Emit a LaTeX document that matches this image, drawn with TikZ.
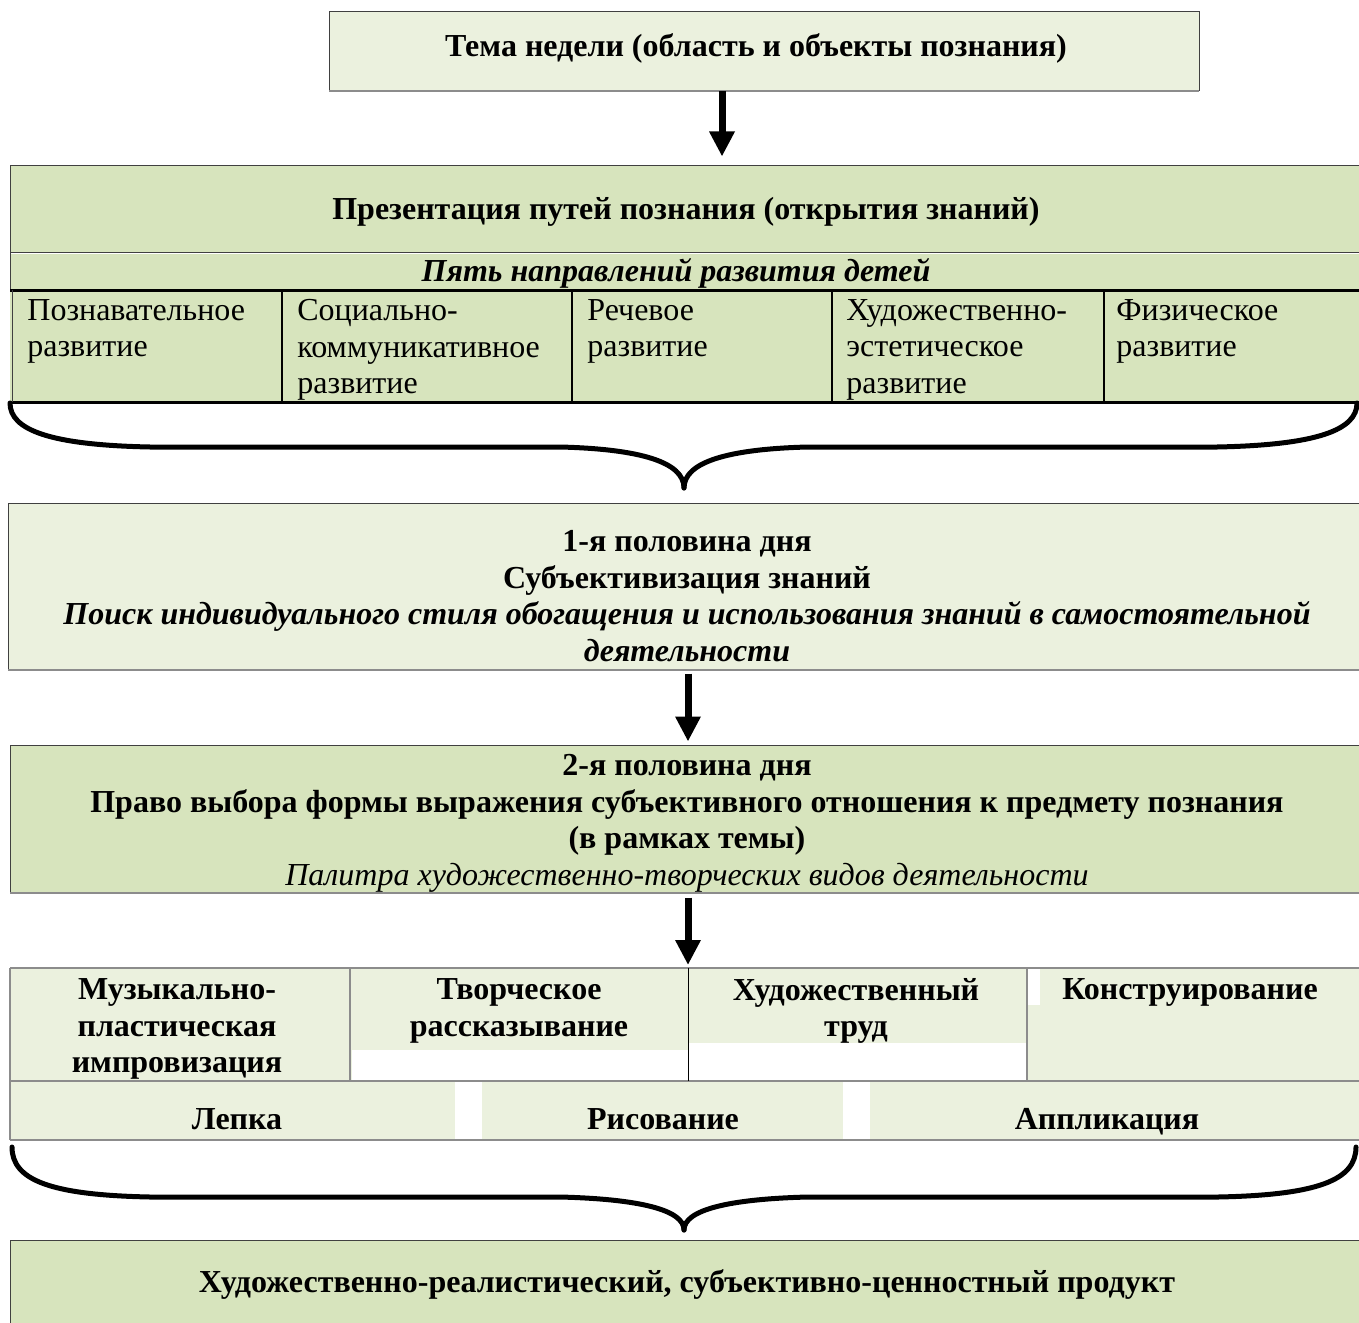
\documentclass[tikz,border=0pt]{standalone}
\usepackage{fontspec}
\setmainfont{Liberation Serif}
\usetikzlibrary{arrows.meta}
\definecolor{dkgreen}{HTML}{D7E4BD}
\definecolor{ltgreen}{HTML}{EBF1DE}
\definecolor{edgegray}{HTML}{404040}
\definecolor{shadowgray}{HTML}{8C8C8C}
\tikzset{
  fnt/.style={font=\fontsize{16}{18.25}\selectfont},
  lbl/.style={fnt, inner sep=0pt, align=center},
  oneline/.style={text height=11pt, text depth=3.5pt},
  cell/.style={fnt, inner sep=0pt, align=left, anchor=north west},
  boxnode/.style={draw=edgegray, line width=0.5pt, inner sep=0pt},
  arr/.style={line width=3.5pt, -{Triangle[width=12pt,length=12.5pt]}},
  brace/.style={line width=2.5pt, line cap=round, line join=round},
  heavyrule/.style={line width=1.5pt},
  colrule/.style={line width=1.2pt},
  thinrule/.style={line width=0.5pt, draw=edgegray},
  grayrule/.style={line width=0.6pt, draw=shadowgray},
}
\begin{document}
\begin{tikzpicture}[x=0.5pt,y=-0.5pt]
\useasboundingbox (0,0) rectangle (1359,1322);
\clip (0,0) rectangle (1359,1322);

% ---------- top box
\node[boxnode, fill=ltgreen, minimum width=435pt, minimum height=39.5pt] (theme) at (764,51.5) {};
\draw[grayrule, line width=1pt] (329,91) -- (1199,91);
\node[lbl, oneline, font=\fontsize{16}{18.25}\selectfont\bfseries] (themetxt) at (756,49) {Тема недели (область и объекты познания)};

% ---------- presentation block
\node[boxnode, fill=dkgreen, minimum width=676pt, minimum height=43.5pt] (presbox) at (686,208.5) {};
\node[fill=dkgreen, inner sep=0pt, minimum width=676pt, minimum height=18pt] (fiveband) at (686,271.5) {};
\fill[dkgreen] (10,290) rectangle (1362,402);
\draw[thinrule] (10,252) -- (1362,252);
\draw[thinrule] (10,252) -- (10,290);
\node[lbl, oneline, font=\fontsize{16}{18.25}\selectfont\bfseries] (prestxt) at (686,212) {Презентация путей познания (открытия знаний)};
\node[lbl, oneline, font=\fontsize{16}{18.25}\selectfont\bfseries\itshape] (fivetxt) at (676,274) {Пять направлений развития детей};

\draw[heavyrule] (10,290) -- (1362,290);
\draw[heavyrule] (10,402) -- (1362,402);
\draw[thinrule] (12,290) -- (12,402);
\foreach \cx in {282,572,832,1104} \draw[colrule] (\cx,290) -- (\cx,402);

\node[cell] (cell1) at (27,299) {Познавательное\\развитие};
\node[cell] (cell2) at (297,299) {Социально-\\коммуникативное\\развитие};
\node[cell] (cell3) at (587,299) {Речевое\\развитие};
\node[cell] (cell4) at (846,299) {Художественно-\\эстетическое\\развитие};
\node[cell] (cell5) at (1116,299) {Физическое\\развитие};

% brace 1
\coordinate (b1tip) at (684,488);
\coordinate (b1l) at (10,403);
\coordinate (b1r) at (1357,403);
\draw[brace] (b1l) .. controls (10,430) and (50,445) .. (150,447) -- (560,447)
  .. controls (640,449) and (684,462) .. (b1tip);
\draw[brace] (b1r) .. controls (1357,430) and (1317,445) .. (1217,447) -- (808,447)
  .. controls (728,449) and (684,462) .. (b1tip);

% ---------- first half of day
\node[boxnode, fill=ltgreen, minimum width=677pt, minimum height=83.5pt] (first) at (685,586.5) {};
\draw[grayrule, line width=1pt] (8,670) -- (1362,670);
\node[lbl, font=\fontsize{16}{18.25}\selectfont\bfseries] (firsttxt) at (687,596)
  {1-я половина дня\\Субъективизация знаний\\
   {\itshape Поиск индивидуального стиля обогащения и использования знаний в самостоятельной}\\
   {\itshape деятельности}};

% ---------- second half of day
\node[boxnode, fill=dkgreen, minimum width=676pt, minimum height=74pt] (second) at (686,819) {};
\draw[grayrule, line width=1pt] (10,893) -- (1362,893);
\node[lbl] (secondtxt) at (687,823.5)
  {\bfseries 2-я половина дня\\
   \bfseries Право выбора формы выражения субъективного отношения к предмету познания\\
   \bfseries (в рамках темы)\\
   \itshape Палитра художественно-творческих видов деятельности};

% arrows
\coordinate (ax1) at (722,0);
\coordinate (ax2) at (688,0);
\draw[arr, shorten >=4pt] (ax1 |- theme.south) -- (ax1 |- presbox.north);
\draw[arr, shorten <=1.5pt, shorten >=1.5pt] (ax2 |- first.south) -- (ax2 |- second.north);

% ---------- activity table
\fill[ltgreen] (10,968) rectangle (1362,1140);
\fill[white] (352,1050) rectangle (688,1080);
\fill[white] (689,1043) rectangle (1026,1080);
\fill[white] (1028,969) rectangle (1040,1005);
\fill[white] (455,1082) rectangle (482,1139);
\fill[white] (843,1082) rectangle (870,1139);
\draw[grayrule] (10,968) -- (1362,968);
\draw[grayrule] (10,1081) -- (1362,1081);
\draw[grayrule] (10,1140) -- (1362,1140);
\draw[grayrule] (10,968) -- (10,1140);
\draw[grayrule] (350,968) -- (350,1081);
\draw[line width=0.5pt] (688,968) -- (688,1081);
\draw[grayrule] (1027,968) -- (1027,1081);
\node[inner sep=0pt, minimum width=676pt, minimum height=1pt] (acttop) at (686,968) {};

\draw[arr, shorten <=2pt, shorten >=1.5pt] (ax2 |- second.south) -- (ax2 |- acttop.center);

\node[lbl, font=\fontsize{16}{18.25}\selectfont\bfseries] (act1) at (177,1029) {Музыкально-\\пластическая\\импровизация};
\node[lbl, font=\fontsize{16}{18.25}\selectfont\bfseries] (act2) at (519,1011) {Творческое\\рассказывание};
\node[lbl, font=\fontsize{16}{18.25}\selectfont\bfseries] (act3) at (856,1011) {Художественный\\труд};
\node[lbl, oneline, font=\fontsize{16}{18.25}\selectfont\bfseries] (act4) at (1190,992) {Конструирование};
\node[lbl, oneline, font=\fontsize{16}{18.25}\selectfont\bfseries] (act5) at (237,1122) {Лепка};
\node[lbl, oneline, font=\fontsize{16}{18.25}\selectfont\bfseries] (act6) at (663,1122) {Рисование};
\node[lbl, oneline, font=\fontsize{16}{18.25}\selectfont\bfseries] (act7) at (1107,1122) {Аппликация};

% brace 2
\coordinate (b2tip) at (684,1230);
\coordinate (b2l) at (12,1147);
\coordinate (b2r) at (1356,1147);
\draw[brace] (b2l) .. controls (12,1180) and (50,1195) .. (150,1197) -- (560,1197)
  .. controls (640,1199) and (684,1210) .. (b2tip);
\draw[brace] (b2r) .. controls (1356,1180) and (1318,1195) .. (1218,1197) -- (808,1197)
  .. controls (728,1199) and (684,1210) .. (b2tip);

% ---------- final product
\node[boxnode, fill=dkgreen, minimum width=676pt, minimum height=45pt] (final) at (686,1285) {};
\node[lbl, oneline, font=\fontsize{16}{18.25}\selectfont\bfseries] (finaltxt) at (687,1285) {Художественно-реалистический, субъективно-ценностный продукт};
\end{tikzpicture}
\end{document}
